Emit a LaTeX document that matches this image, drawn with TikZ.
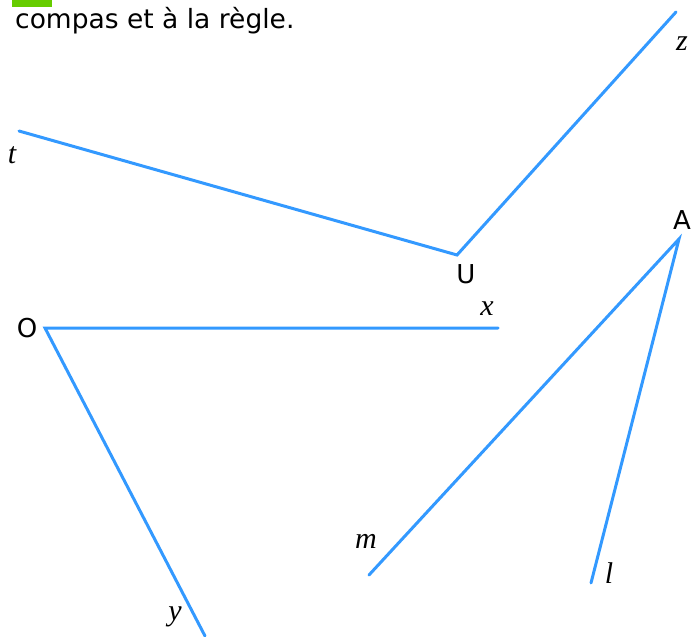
\documentclass[tikz,border=0pt]{standalone}
\usepackage{fontspec}
\setmainfont{DejaVu Sans}
\newfontfamily\lettre{Liberation Serif}
\usepackage{xcolor}
\definecolor{rayblue}{RGB}{51,153,255}
\definecolor{tagreen}{RGB}{102,204,0}
\usetikzlibrary{positioning}
\tikzset{
	ray/.style={draw=rayblue, line width=3pt, line cap=round, line join=miter},
	vname/.style={inner sep=0pt, font=\fontsize{26}{30}\selectfont},
	rname/.style={inner sep=0pt, font=\fontsize{30}{34}\selectfont\lettre\itshape}
}

\begin{document}
\begin{tikzpicture}[x=1pt, y=-1pt]
			\useasboundingbox (0,0) rectangle (691,637);
			\fill[tagreen] (12,0) rectangle (52,7);
			\node[anchor=base west, inner sep=0pt, font=\fontsize{26.5}{30}\selectfont] (consigne) at (15,28) {compas et à la règle.};
			
			% angle tUz
			\coordinate (U) at (457,255);
			\coordinate (t) at (19,131);
			\coordinate (z) at (676,12);
			\draw[ray] (t) -- (U) -- (z);
			\node[vname] (labU) at (466,274) {U};
			\node[rname] (labt) at (12,155) {t};
			\node[rname] (labz) at (682,44) {z};
			
			% angle xOy
			\coordinate (O) at (45,328);
			\coordinate (x) at (498,328);
			\coordinate (y) at (205,636);
			\draw[ray] (x) -- (O) -- (y);
			\node[vname] (labO) at (27,328) {O};
			\node[rname] (labx) at (487,309) {x};
			\node[rname] (laby) at (175,617) {y};
			
			% angle mAl
			\coordinate (A) at (679,239);
			\coordinate (m) at (369,575);
			\coordinate (l) at (591,583);
			\draw[ray] (m) -- (A) -- (l);
			\node[vname] (labA) at (682,220) {A};
			\node[rname] (labm) at (366,541) {m};
			\node[rname] (labl) at (609,573) {l};
		\end{tikzpicture}
\end{document}
